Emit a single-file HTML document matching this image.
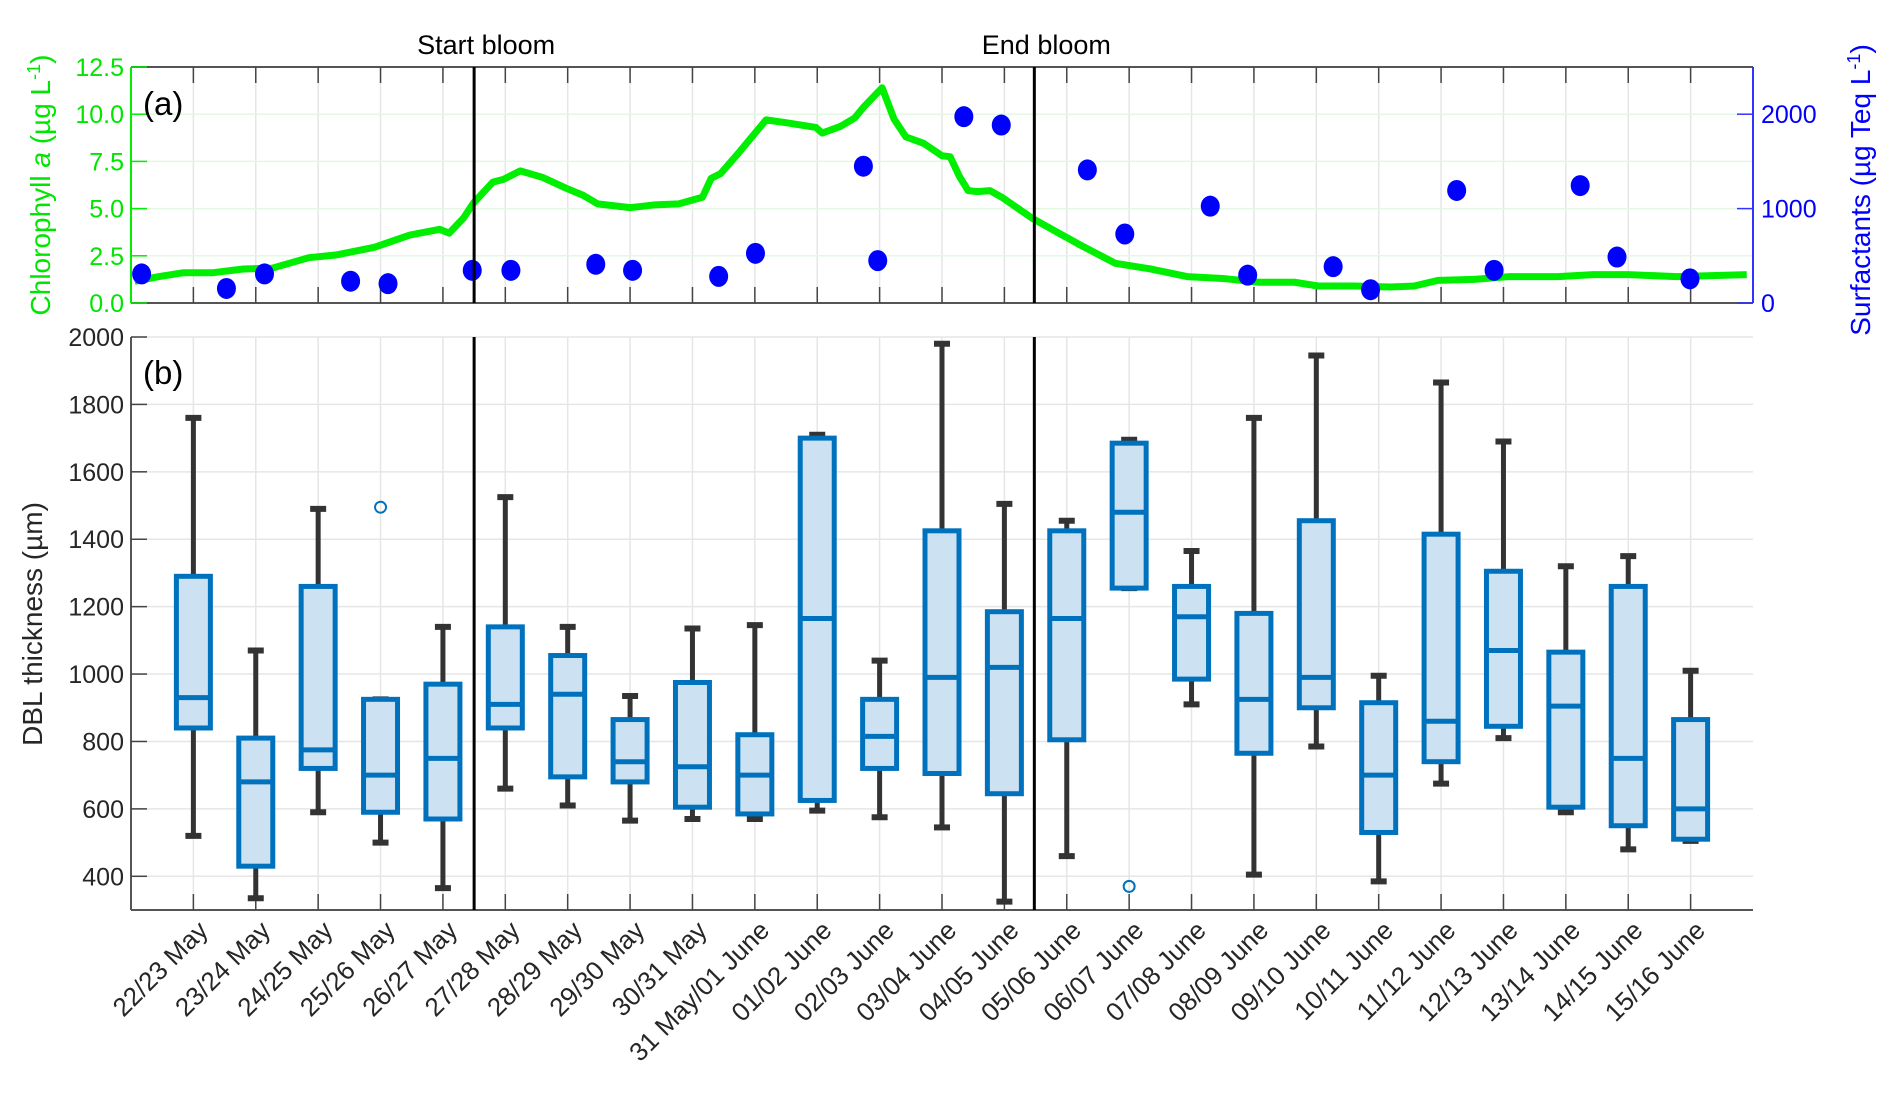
<!DOCTYPE html>
<html><head><meta charset="utf-8"><style>
html,body{margin:0;padding:0;background:#fff;}
svg{display:block;font-family:"Liberation Sans",sans-serif;}
</style></head><body>
<svg id="chart" width="1892" height="1095" viewBox="0 0 1892 1095" xmlns="http://www.w3.org/2000/svg"></svg>
<script>
const categories=["22/23 May","23/24 May","24/25 May","25/26 May","26/27 May","27/28 May","28/29 May","29/30 May","30/31 May","31 May/01 June","01/02 June","02/03 June","03/04 June","04/05 June","05/06 June","06/07 June","07/08 June","08/09 June","09/10 June","10/11 June","11/12 June","12/13 June","13/14 June","14/15 June","15/16 June"];
const whiskerLow=[520,335,590,500,365,660,610,565,570,570,595,575,545,325,460,1255,910,405,785,385,675,810,590,480,505];
const q1=[840,430,720,590,570,840,695,680,605,585,625,720,705,645,805,1255,985,765,900,530,740,845,605,550,510];
const medians=[930,680,775,700,750,910,940,740,725,700,1165,815,990,1020,1165,1480,1170,925,990,700,860,1070,905,750,600];
const q3=[1290,810,1260,925,970,1140,1055,865,975,820,1700,925,1425,1185,1425,1685,1260,1180,1455,915,1415,1305,1065,1260,865];
const whiskerHigh=[1760,1070,1490,925,1140,1525,1140,935,1135,1145,1710,1040,1980,1505,1455,1695,1365,1760,1945,995,1865,1690,1320,1350,1010];
const outlierCat=[4,16];
const outlierVal=[1495,370];
const chlX=[0.06,0.45,0.83,1.3,1.8,2.27,2.85,3.3,3.9,4.47,4.95,5.1,5.33,5.49,5.8,5.97,6.24,6.6,6.96,7.25,7.48,8.0,8.4,8.78,9.16,9.3,9.45,9.74,10.18,10.5,10.98,11.08,11.37,11.6,11.75,12.04,12.23,12.42,12.71,13.0,13.13,13.28,13.42,13.57,13.77,13.96,14.44,14.82,15.2,15.78,16.35,16.93,17.5,18.08,18.65,19.03,19.61,20.19,20.57,20.95,21.53,22.1,22.87,23.44,24.0,24.78,25.9];
const chlY=[1.15,1.4,1.6,1.6,1.8,1.85,2.4,2.55,2.95,3.6,3.9,3.7,4.5,5.3,6.4,6.55,7.0,6.65,6.1,5.7,5.25,5.05,5.2,5.25,5.6,6.6,6.85,7.95,9.7,9.55,9.3,9.0,9.35,9.8,10.4,11.4,9.75,8.8,8.45,7.8,7.75,6.7,5.95,5.9,5.95,5.6,4.5,3.8,3.1,2.1,1.8,1.4,1.3,1.1,1.1,0.9,0.9,0.85,0.9,1.2,1.25,1.4,1.4,1.5,1.5,1.4,1.5];
const surfX=[0.17,1.53,2.14,3.52,4.12,5.47,6.09,7.45,8.04,9.42,10.01,11.74,11.97,13.35,13.95,15.33,15.93,17.3,17.9,19.27,19.87,21.25,21.85,23.23,23.82,24.99];
const surfY=[308,154,308,231,205,346,346,410,346,282,526,1449,449,1974,1885,1410,731,1026,295,385,141,1192,346,1244,487,256];
const chlTicks=["0.0","2.5","5.0","7.5","10.0","12.5"];
const surfTicks=[0,1000,2000];
const dblTicks=[400,600,800,1000,1200,1400,1600,1800,2000];
const bloomLines=[5.5,14.48];
const bloomLabels=["Start bloom","End bloom"];

const svg=document.getElementById('chart');
const NS="http://www.w3.org/2000/svg";
const L=131,R=1753,aT=67,aB=303,bT=337,bB=910;
const X=c=>L+(R-L)*c/26;
const YA=v=>aB-(aB-aT)*v/12.5;
const YS=v=>aB-(aB-aT)*v/2500;
const YB=v=>bB-(bB-bT)*(v-300)/1700;
function el(tag,attrs,parent){const e=document.createElementNS(NS,tag);for(const k in attrs)e.setAttribute(k,attrs[k]);(parent||svg).appendChild(e);return e;}

const g=el('g',{});


for(let i=1;i<=25;i++){
  el('line',{x1:X(i),x2:X(i),y1:aT,y2:aB,stroke:'#e6e6e6','stroke-width':1.5},g);
  el('line',{x1:X(i),x2:X(i),y1:bT,y2:bB,stroke:'#e6e6e6','stroke-width':1.5},g);
}
chlTicks.forEach(t=>{const v=parseFloat(t);if(v>0&&v<12.5)el('line',{x1:L,x2:R,y1:YA(v),y2:YA(v),stroke:'#e3f7e3','stroke-width':1.5},g);});
dblTicks.forEach(v=>el('line',{x1:L,x2:R,y1:YB(v),y2:YB(v),stroke:'#e6e6e6','stroke-width':1.5},g));

el('line',{x1:L,x2:R,y1:aT,y2:aT,stroke:'#555','stroke-width':2});
el('line',{x1:L,x2:R,y1:aB,y2:aB,stroke:'#555','stroke-width':2});
for(let i=1;i<=25;i++){
  el('line',{x1:X(i),x2:X(i),y1:aT,y2:aT+16,stroke:'#444','stroke-width':1.5});
  el('line',{x1:X(i),x2:X(i),y1:aB,y2:aB-16,stroke:'#444','stroke-width':1.5});
}
el('line',{x1:L,x2:L,y1:aT,y2:aB,stroke:'#00ee00','stroke-width':2});
el('line',{x1:R,x2:R,y1:aT,y2:aB,stroke:'#3333ff','stroke-width':2});
chlTicks.forEach(t=>{const v=parseFloat(t);
  el('line',{x1:L,x2:L+16,y1:YA(v),y2:YA(v),stroke:'#00ee00','stroke-width':1.5});
  const tx=el('text',{x:L-7,y:YA(v)+9,'text-anchor':'end','font-size':25,fill:'#00e600'});tx.textContent=t;
  
  
});
surfTicks.forEach(v=>{
  el('line',{x1:R,x2:R-16,y1:YS(v),y2:YS(v),stroke:'#3333ff','stroke-width':1.5});
  const tx=el('text',{x:R+8,y:YS(v)+9,'font-size':25,fill:'#0000ff'});tx.textContent=v;
  
  
});

const pts=chlX.map((c,i)=>X(c)+','+YA(chlY[i])).join(' ');
const pl=el('polyline',{points:pts,fill:'none',stroke:'#00ee00','stroke-width':7,'stroke-linejoin':'round'});


surfX.forEach((c,i)=>{
  const d=el('ellipse',{cx:X(c),cy:YS(surfY[i]),rx:9.5,ry:10.5,fill:'#0000ff'});
  
  
});

el('line',{x1:L,x2:L,y1:bT,y2:bB,stroke:'#555','stroke-width':2});
el('line',{x1:L,x2:R,y1:bB,y2:bB,stroke:'#555','stroke-width':2});
dblTicks.forEach(v=>{
  el('line',{x1:L,x2:L+16,y1:YB(v),y2:YB(v),stroke:'#444','stroke-width':1.5});
  const tx=el('text',{x:L-7,y:YB(v)+9,'text-anchor':'end','font-size':25,fill:'#262626'});tx.textContent=v;
  
  
});
categories.forEach((c,i)=>{
  const x=X(i+1);
  el('line',{x1:x,x2:x,y1:bB,y2:bB-16,stroke:'#444','stroke-width':1.5});
  const tx=el('text',{x:0,y:0,'text-anchor':'end','font-size':26,fill:'#262626',transform:`translate(${x+16},${bB+22}) rotate(-45)`});
  tx.textContent=c;
  
  
});

const hw=17;
categories.forEach((c,i)=>{
  const x=X(i+1);
  const bg=el('g',{});
  
  
  el('line',{x1:x,x2:x,y1:YB(whiskerLow[i]),y2:YB(q1[i]),stroke:'#333','stroke-width':5},bg);
  el('line',{x1:x,x2:x,y1:YB(q3[i]),y2:YB(whiskerHigh[i]),stroke:'#333','stroke-width':5},bg);
  el('line',{x1:x-8,x2:x+8,y1:YB(whiskerLow[i]),y2:YB(whiskerLow[i]),stroke:'#333','stroke-width':6},bg);
  el('line',{x1:x-8,x2:x+8,y1:YB(whiskerHigh[i]),y2:YB(whiskerHigh[i]),stroke:'#333','stroke-width':6},bg);
  el('rect',{x:x-hw,y:YB(q3[i]),width:2*hw,height:YB(q1[i])-YB(q3[i]),fill:'#cce2f2',stroke:'#0072bd','stroke-width':5},bg);
  el('line',{x1:x-hw,x2:x+hw,y1:YB(medians[i]),y2:YB(medians[i]),stroke:'#0072bd','stroke-width':5},bg);
});
outlierCat.forEach((c,i)=>{
  const o=el('circle',{cx:X(c),cy:YB(outlierVal[i]),r:5.5,fill:'none',stroke:'#0072bd','stroke-width':2});
  
  
});

bloomLines.forEach((c,i)=>{
  const x=X(c);
  el('line',{x1:x,x2:x,y1:aT,y2:aB,stroke:'#000','stroke-width':3});
  el('line',{x1:x,x2:x,y1:bT,y2:bB,stroke:'#000','stroke-width':3});
  const t=el('text',{x:x+12,y:54,'text-anchor':'middle','font-size':27,fill:'#000'});t.textContent=bloomLabels[i];
  
  
});
</script>
<svg style="position:absolute;left:0;top:0" width="1892" height="1095">
<text x="143" y="115" font-size="33" fill="#000" font-family="Liberation Sans">(a)</text>
<text x="143" y="384" font-size="33" fill="#000" font-family="Liberation Sans">(b)</text>
<text transform="translate(50,185) rotate(-90)" text-anchor="middle" font-size="28" fill="#00e600" font-family="Liberation Sans">Chlorophyll <tspan font-style="italic">a</tspan> (µg L<tspan dy="-10" font-size="18">-1</tspan><tspan dy="10">)</tspan></text>
<text transform="translate(1870,190) rotate(-90)" text-anchor="middle" font-size="28" fill="#0000ff" font-family="Liberation Sans">Surfactants (µg Teq L<tspan dy="-10" font-size="18">-1</tspan><tspan dy="10">)</tspan></text>
<text transform="translate(42,624) rotate(-90)" text-anchor="middle" font-size="28" fill="#262626" font-family="Liberation Sans">DBL thickness (µm)</text>
</svg>
</body></html>
